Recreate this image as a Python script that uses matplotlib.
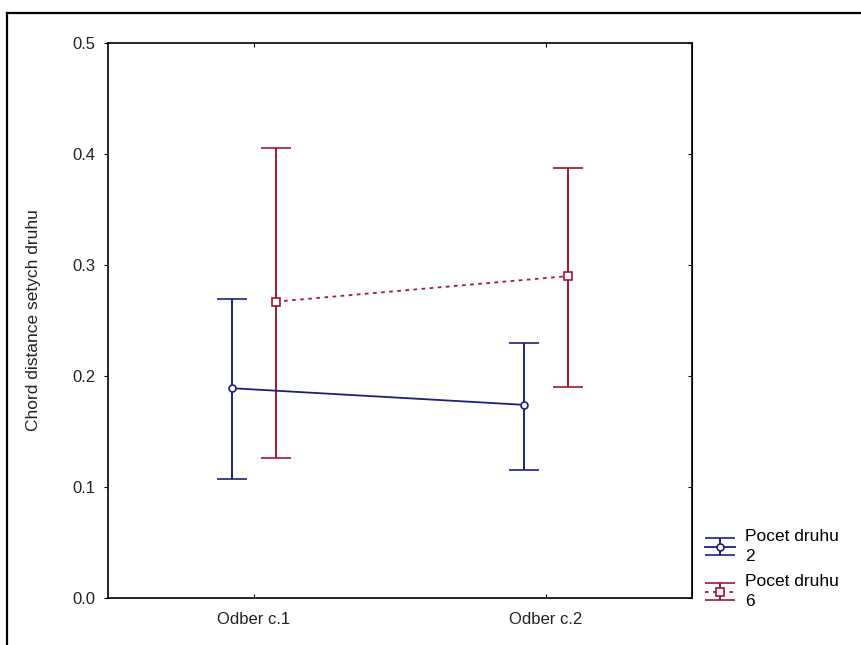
import numpy as np
import matplotlib.pyplot as plt
from matplotlib.lines import Line2D

# data
samples = ['Odber c.1', 'Odber c.2']
mean_2 = [0.189, 0.174]
low_2 = [0.107, 0.1155]
high_2 = [0.269, 0.230]
mean_6 = [0.267, 0.290]
low_6 = [0.126, 0.190]
high_6 = [0.405, 0.387]
y_ticks = [0.0, 0.1, 0.2, 0.3, 0.4, 0.5]

blue = '#1c1f80'
red = '#a3162e'

plt.rcParams['font.family'] = ['Liberation Sans', 'DejaVu Sans']

fig = plt.figure(figsize=(8.61, 6.45), dpi=100)
ax = fig.add_axes([108 / 861, 1 - 598 / 645, 584 / 861, 555 / 645])

x = np.arange(len(samples))
off = 0.075


def draw_series(xpos, mean, low, high, color, marker, ls, ms, label):
    mean = np.array(mean)
    err = [mean - np.array(low), np.array(high) - mean]
    ax.errorbar(xpos, mean, yerr=err, color=color, ecolor=color, linestyle=ls,
                linewidth=1.3, elinewidth=1.4, capsize=10.5, capthick=1.4,
                marker=marker, markersize=ms, markerfacecolor='white',
                markeredgecolor=color, markeredgewidth=1.2, label=label)


draw_series(x - off, mean_2, low_2, high_2, blue, 'o', '-', 5, 'Pocet druhu\n2')
draw_series(x + off, mean_6, low_6, high_6, red, 's', (0, (2, 2.5)), 6, 'Pocet druhu\n6')

ax.set_xlim(-0.5, 1.5)
ax.set_ylim(0, 0.5)
ax.set_xticks(x)
ax.set_xticklabels(samples, fontsize=12, color='#222222')
ax.set_yticks(y_ticks)
ax.set_yticklabels(['%.1f' % t for t in y_ticks], fontsize=12, color='#222222')
ax.tick_params(axis='x', direction='in', top=True, length=3, pad=10)
ax.tick_params(axis='y', direction='out', length=3, pad=6)
ax.set_ylabel('Chord distance setych druhu', fontsize=12.5, color='#222222')
ax.yaxis.set_label_coords(-0.115, 0.5)
for s in ax.spines.values():
    s.set_linewidth(1.2)

right = ax.secondary_yaxis('right')
right.set_yticks(y_ticks)
right.tick_params(direction='in', length=3, labelright=False)

leg = ax.legend(loc='upper left', bbox_to_anchor=(705 / 861, 1 - 529 / 645),
                bbox_transform=fig.transFigure, frameon=False, fontsize=12.5,
                handlelength=1.7, handletextpad=0.6, labelspacing=0.55,
                borderaxespad=0, borderpad=0)
for t in leg.get_texts():
    t.set_linespacing(1.45)

# scan frame: top and left edges
fig.add_artist(Line2D([7 / 861, 1], [1 - 13 / 645, 1 - 13 / 645], color='black', lw=1.6))
fig.add_artist(Line2D([7 / 861, 7 / 861], [0, 1 - 13 / 645], color='black', lw=1.6))

fig.savefig('out.png', dpi=100)
